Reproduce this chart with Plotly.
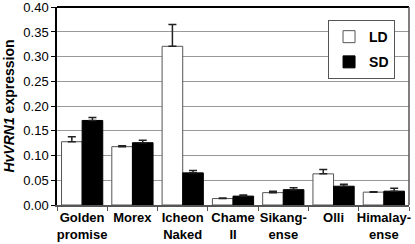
import plotly.graph_objects as go

categories = ["Golden<br>promise", "Morex", "Icheon<br>Naked", "Chame<br>II", "Sikang-<br>ense", "Olli", "Himalay-<br>ense"]
ld_values = [0.128, 0.118, 0.321, 0.013, 0.025, 0.063, 0.026]
ld_errors = [0.010, 0.002, 0.044, 0.001, 0.003, 0.009, 0.001]
sd_values = [0.171, 0.126, 0.065, 0.018, 0.031, 0.038, 0.028]
sd_errors = [0.006, 0.005, 0.005, 0.002, 0.004, 0.004, 0.006]
y_ticks = [0.0, 0.05, 0.10, 0.15, 0.20, 0.25, 0.30, 0.35, 0.40]
y_tick_labels = ["0.00", "0.05", "0.10", "0.15", "0.20", "0.25", "0.30", "0.35", "0.40"]

FONT = "Liberation Sans, Arial, sans-serif"

fig = go.Figure()
fig.add_trace(go.Bar(
    x=categories, y=ld_values, name="LD", legendgroup="ld",
    marker=dict(color="white", line=dict(color="#555555", width=1)),
    error_y=dict(type="data", array=ld_errors, symmetric=False, arrayminus=[0]*7,
                 color="#222222", thickness=1.5, width=4),
))
fig.add_trace(go.Bar(
    x=categories, y=sd_values, name="SD", legendgroup="sd",
    marker=dict(color="black", line=dict(color="black", width=1)),
    error_y=dict(type="data", array=sd_errors, symmetric=False, arrayminus=[0]*7,
                 color="#222222", thickness=1.5, width=4),
))

fig.update_layout(
    width=415, height=244,
    margin=dict(l=57, r=6, t=7, b=39, autoexpand=False),
    paper_bgcolor="white", plot_bgcolor="white",
    barmode="group", bargap=0.18, bargroupgap=0,
    font=dict(family=FONT, size=13, color="black"),
    showlegend=True,
    legend=dict(x=0.77, y=0.934, xanchor="left", yanchor="top",
                bgcolor="white", bordercolor="#555555", borderwidth=1,
                font=dict(size=14, family=FONT, weight="bold"),
                traceorder="grouped", tracegroupgap=4,
                itemwidth=30),
    xaxis=dict(
        automargin=False,
        tickfont=dict(size=13, family=FONT, weight="bold"),
        showline=True, linecolor="#555555", linewidth=1.5,
        ticks="outside", tickson="boundaries", ticklen=4, tickcolor="#555555",
        tickangle=0, ticklabeloverflow="allow",
    ),
    yaxis=dict(
        automargin=False,
        range=[0, 0.4005], tickvals=y_ticks, ticktext=y_tick_labels,
        showgrid=True, gridcolor="#999999", gridwidth=1,
        showline=True, linecolor="black", linewidth=1.5,
        ticks="outside", ticklen=4, tickcolor="black",
        tickfont=dict(size=13), ticklabeloverflow="allow",
        title=dict(text="<b><i>HvVRN1</i> expression</b>", font=dict(size=14), standoff=5),
        zeroline=False,
    ),
)

fig.add_shape(type="line", xref="paper", yref="paper", x0=0, x1=1, y0=1, y1=1,
              line=dict(color="black", width=2))
fig.add_shape(type="line", xref="paper", yref="paper", x0=1, x1=1, y0=0, y1=1,
              line=dict(color="#555555", width=1.5))

fig.write_html("out.html", config={"displayModeBar": False},
               post_script="document.body.style.margin='0';")
